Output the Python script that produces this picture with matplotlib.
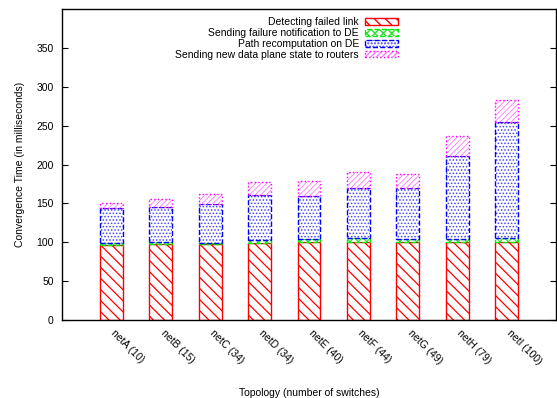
import matplotlib.pyplot as plt
import numpy as np

plt.rcParams['font.family'] = ['Liberation Sans', 'DejaVu Sans']

# Convergence time breakdown per topology (milliseconds)
topologies = ['netA (10)', 'netB (15)', 'netC (34)', 'netD (34)', 'netE (40)',
              'netF (44)', 'netG (49)', 'netH (79)', 'netI (100)']
detect_link = [97, 97.5, 98, 99, 100, 100.5, 101, 100, 100.5]
notify_de = [2.5, 2.5, 1.5, 4, 4, 4.5, 3.5, 4, 4.5]
path_recomp = [44.5, 46, 50, 57.5, 56, 65, 65.5, 106.5, 149.5]
push_state = [6.5, 10, 12, 17, 19.5, 20.5, 18.5, 26.5, 29]

labels = ['Detecting failed link',
          'Sending failure notification to DE',
          'Path recomputation on DE',
          'Sending new data plane state to routers']

fig = plt.figure(figsize=(5.57, 3.98), dpi=100)
ax = fig.add_axes([0.1113, 0.196, 0.887, 0.781])

x = np.arange(1, len(topologies) + 1)
w = 0.46
bottom = np.zeros(len(x))
# (outline colour, hatch colour, hatch, hatch width, outline style)
styles = [
    ('#ff0000', '#ff0000', '\\\\\\', 0.9, '-'),
    ('#00ee00', '#33dd33', 'xxxx', 0.8, '--'),
    ('#0000ff', '#4444ff', '.....', 0.7, '--'),
    ('#ff00ff', '#ff77ff', '//////', 0.6, ':'),
]
handles = []
for vals, (ec, hc, hatch, hlw, ls) in zip(
        [detect_link, notify_de, path_recomp, push_state], styles):
    with plt.rc_context({'hatch.linewidth': hlw}):
        hb = ax.bar(x, vals, w, bottom=bottom, facecolor='white',
                    edgecolor=hc, hatch=hatch, linewidth=0)
    ob = ax.bar(x, vals, w, bottom=bottom, fill=False, edgecolor=ec,
                linewidth=1.0, linestyle=ls)
    handles.append((hb, ob))
    bottom += np.array(vals)

ax.set_xlim(0, 10)
ax.set_ylim(0, 400)
ax.set_yticks(np.arange(0, 351, 50))
# labels hang from just right of each bar centre (ticks themselves hidden)
ax.set_xticks(x + 0.1)
ax.set_xticklabels(topologies, rotation=-45, ha='left', va='top',
                   rotation_mode='anchor', fontsize=7.5)
ax.tick_params(axis='x', length=0, pad=6)
ax.tick_params(axis='y', direction='in', length=4, right=True, labelsize=7.5,
               width=0.8, pad=6)
for s in ax.spines.values():
    s.set_linewidth(1.0)

ax.set_ylabel('Convergence Time (in milliseconds)', fontsize=7.5, labelpad=8)
ax.set_xlabel('Topology (number of switches)', fontsize=7.5)
ax.xaxis.set_label_coords(0.5, -0.218)

ax.legend(handles, labels, loc='upper right', bbox_to_anchor=(0.685, 0.98),
          frameon=False, markerfirst=False, fontsize=7.5, handlelength=3.2,
          handleheight=0.6, labelspacing=0.07, borderaxespad=0, borderpad=0.2,
          handletextpad=0.6)

plt.savefig('out.png', dpi=100)
